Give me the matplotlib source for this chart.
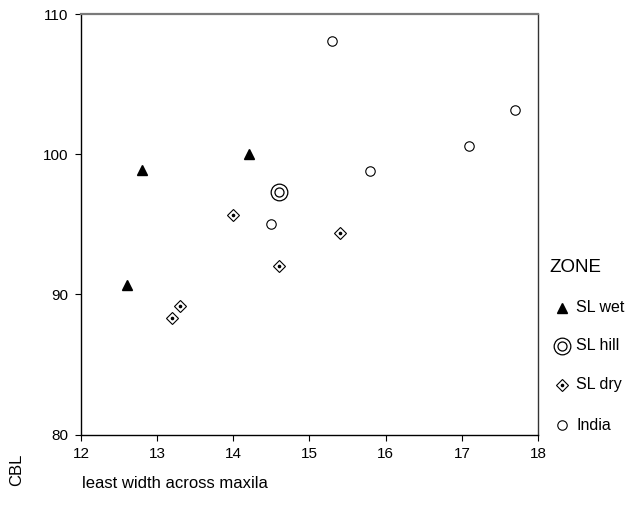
import matplotlib
matplotlib.use("Agg")
import matplotlib.pyplot as plt

plt.rcParams["font.family"] = ["Liberation Sans", "DejaVu Sans"]
plt.rcParams["font.size"] = 10

# data
wet_x = [12.6, 12.8, 14.2]
wet_y = [90.7, 98.9, 100.0]
hill_x = [14.6]
hill_y = [97.3]
dry_x = [13.2, 13.3, 14.0, 14.6, 15.4]
dry_y = [88.3, 89.2, 95.7, 92.0, 94.35]
india_x = [14.5, 15.3, 15.8, 17.1, 17.7]
india_y = [95.0, 108.1, 98.8, 100.6, 103.15]

zones = ["SL wet", "SL hill", "SL dry", "India"]
x_ticks = [12, 13, 14, 15, 16, 17, 18]
y_ticks = [80, 90, 100, 110]

fig = plt.figure(figsize=(6.29, 5.13), dpi=100)
ax = fig.add_axes([0.1288, 0.1526, 0.7265, 0.8201])


def draw(a, kind, xs, ys):
    if kind == "SL wet":
        a.plot(xs, ys, ls="none", marker="^", ms=7.5, mfc="black", mec="black", clip_on=False)
    elif kind == "SL hill":
        a.plot(xs, ys, ls="none", marker="o", ms=12, mfc="white", mec="black", mew=0.9, clip_on=False)
        a.plot(xs, ys, ls="none", marker="o", ms=6.5, mfc="white", mec="black", mew=0.9, clip_on=False)
    elif kind == "SL dry":
        a.plot(xs, ys, ls="none", marker="D", ms=6.0, mfc="white", mec="black", mew=0.8, clip_on=False)
        a.plot(xs, ys, ls="none", marker="o", ms=1.6, mfc="black", mec="black", clip_on=False)
    else:
        a.plot(xs, ys, ls="none", marker="o", ms=6.8, mfc="white", mec="black", mew=0.8, clip_on=False)


series = {"SL wet": (wet_x, wet_y), "SL hill": (hill_x, hill_y),
          "SL dry": (dry_x, dry_y), "India": (india_x, india_y)}
for name in ["India", "SL dry", "SL hill", "SL wet"]:
    draw(ax, name, *series[name])

ax.set_xlim(12, 18)
ax.set_ylim(80, 110)
ax.set_xticks(x_ticks)
ax.set_yticks(y_ticks)
ax.tick_params(direction="out", length=4, width=0.8, labelsize=11, colors="black", pad=5)
for s in ["left", "bottom"]:
    ax.spines[s].set_color("black")
    ax.spines[s].set_linewidth(1.0)
ax.spines["top"].set_color("#7a7a7a")
ax.spines["top"].set_linewidth(1.6)
ax.spines["right"].set_color("#333333")
ax.spines["right"].set_linewidth(1.0)

fig.text(82 / 629, 1 - 483 / 513, "least width across maxila", fontsize=12,
         ha="left", va="center")
fig.text(17 / 629, 1 - 470 / 513, "CBL", fontsize=12, rotation=90,
         ha="center", va="center")

# legend drawn in a figure-level overlay axes (pixel coordinates)
lax = fig.add_axes([0, 0, 1, 1], facecolor="none")
lax.set_xlim(0, 629)
lax.set_ylim(513, 0)
lax.axis("off")
lax.text(549, 267, "ZONE", fontsize=13.5, ha="left", va="center")
leg_y = [308, 346, 385, 425]
for name, yy in zip(zones, leg_y):
    draw(lax, name, [562], [yy])
    lax.text(576, yy, name, fontsize=11.5, ha="left", va="center")

fig.savefig("out.png", dpi=100)
